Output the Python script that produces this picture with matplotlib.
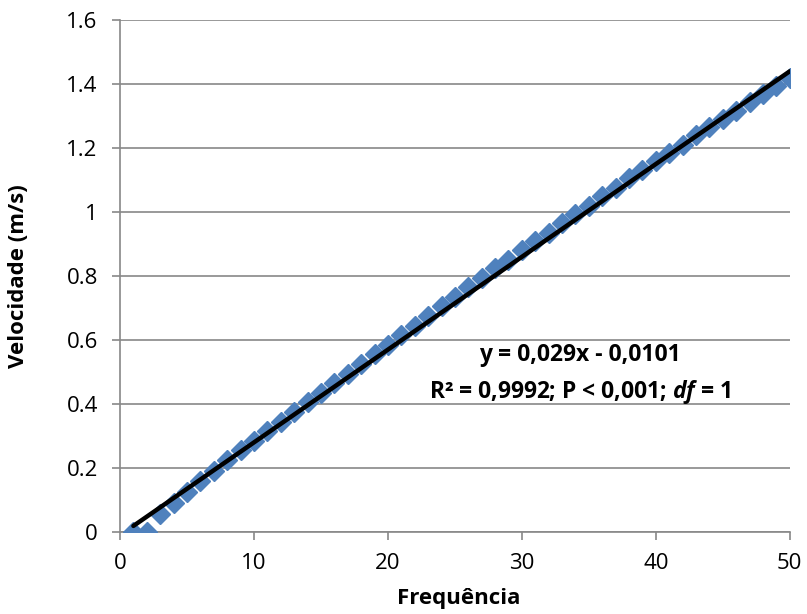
import matplotlib
matplotlib.use("Agg")
import matplotlib.pyplot as plt
import numpy as np

freq = list(range(1, 51))
velocidade = [0, 0, 0.055, 0.09, 0.125, 0.16, 0.19, 0.225, 0.255, 0.285,
              0.315, 0.345, 0.375, 0.405, 0.435, 0.465, 0.495, 0.525, 0.555, 0.585,
              0.615, 0.645, 0.675, 0.705, 0.735, 0.765, 0.795, 0.825, 0.85, 0.88,
              0.91, 0.935, 0.965, 0.995, 1.02, 1.05, 1.075, 1.105, 1.13, 1.16,
              1.185, 1.21, 1.24, 1.265, 1.29, 1.315, 1.345, 1.37, 1.395, 1.42]
slope, intercept = 0.029, -0.0101
eq_lines = ["y = 0,029x - 0,0101", r"R² = 0,9992; P < 0,001; $\mathbfit{df}$ = 1"]

plt.rcParams['font.family'] = ['Open Sans', 'DejaVu Sans']
plt.rcParams['mathtext.fontset'] = 'custom'
plt.rcParams['mathtext.it'] = 'Open Sans:italic'
plt.rcParams['mathtext.bf'] = 'Open Sans:bold'
plt.rcParams['mathtext.bfit'] = 'Open Sans:bold:italic'

fig = plt.figure(figsize=(8.07, 6.14), dpi=100)
ax = fig.add_axes([0.1487, 0.1336, 0.830, 0.8338])

ax.plot(freq, velocidade, linestyle='none', marker='D', markersize=10.5,
        color='#4F81BD', markeredgecolor='#4F81BD', zorder=3)
xs = np.array([freq[0], freq[-1]])
ax.plot(xs, slope * xs + intercept, color='black', linewidth=3.2, zorder=4,
        solid_capstyle='round')

ax.set_xlim(0, 50)
ax.set_ylim(0, 1.6)
ax.set_xticks(range(0, 51, 10))
ax.set_yticks(np.arange(0, 1.61, 0.2))
ax.set_yticklabels(['0', '0.2', '0.4', '0.6', '0.8', '1', '1.2', '1.4', '1.6'])
ax.yaxis.grid(True, color='#888888', linewidth=1.2)
ax.set_axisbelow(True)
for s in ['top', 'right']:
    ax.spines[s].set_visible(False)
for s in ['left', 'bottom']:
    ax.spines[s].set_color('#888888')
    ax.spines[s].set_linewidth(1.2)
ax.tick_params(axis='both', direction='out', length=6, width=1.2, color='#888888',
               labelsize=16, labelcolor='black')
ax.tick_params(axis='y', pad=10)
ax.tick_params(axis='x', pad=9)

ax.set_xlabel('Frequência', fontsize=16, fontweight='bold')
ax.set_ylabel('Velocidade (m/s)', fontsize=16, fontweight='bold')
ax.xaxis.set_label_coords(0.505, -0.11)
ax.yaxis.set_label_coords(-0.136, 0.5)

ax.text(34.3, 0.553, eq_lines[0], ha='center', va='center', fontsize=16.5, fontweight='bold')
ax.text(34.3, 0.4375, eq_lines[1], ha='center', va='center', fontsize=16.5, fontweight='bold')

fig.savefig('out.png', dpi=100)
